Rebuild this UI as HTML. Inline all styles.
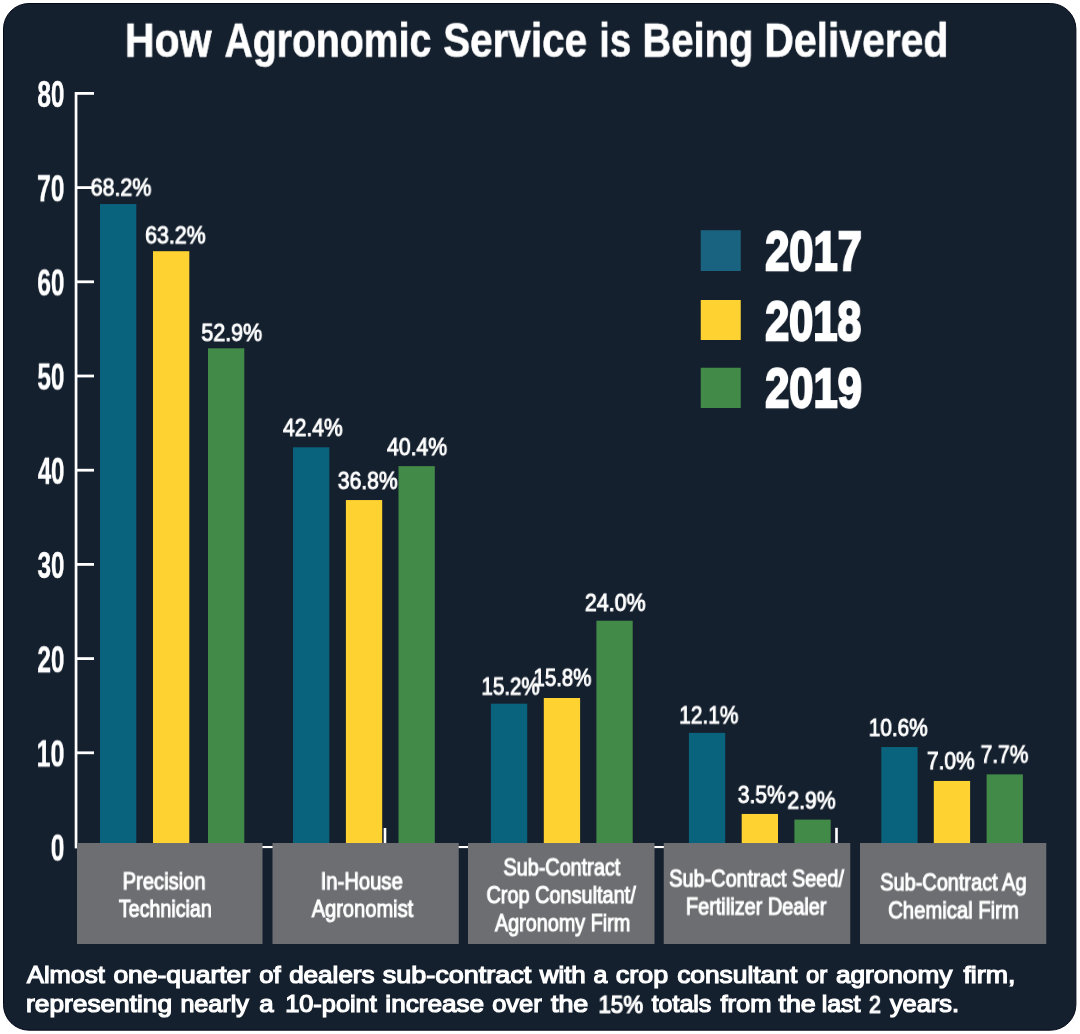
<!DOCTYPE html>
<html><head><meta charset="utf-8"><title>How Agronomic Service is Being Delivered</title>
<style>
html,body{margin:0;padding:0;background:#fff;}
body{width:1080px;height:1034px;position:relative;overflow:hidden;font-family:"Liberation Sans",sans-serif;}
.c{position:absolute;left:0;top:0;}
.t{will-change:transform;position:absolute;left:0;top:0;white-space:nowrap;line-height:1;transform-origin:0 0;color:#fff;font-family:"Liberation Sans",sans-serif;}
</style></head><body>

<svg class="c" width="1080" height="1034" viewBox="0 0 1080 1034">
<rect x="3.5" y="3.5" width="1072.4" height="1026.7" rx="25.5" ry="25.5" fill="#15202E" stroke="#060b1b" stroke-width="1"/>
<rect x="74.70" y="92.00" width="2.70" height="756.30" fill="#fff"/>
<rect x="75.00" y="92.00" width="19.00" height="2.80" fill="#fff"/>
<rect x="75.00" y="186.20" width="19.00" height="2.80" fill="#fff"/>
<rect x="75.00" y="280.40" width="19.00" height="2.80" fill="#fff"/>
<rect x="75.00" y="374.60" width="19.00" height="2.80" fill="#fff"/>
<rect x="75.00" y="468.80" width="19.00" height="2.80" fill="#fff"/>
<rect x="75.00" y="563.00" width="19.00" height="2.80" fill="#fff"/>
<rect x="75.00" y="657.20" width="19.00" height="2.80" fill="#fff"/>
<rect x="75.00" y="751.40" width="19.00" height="2.80" fill="#fff"/>
<rect x="75.00" y="846.00" width="762.80" height="2.10" fill="#fff"/>
<rect x="383.70" y="828.00" width="2.60" height="19.00" fill="#fff"/>
<rect x="835.20" y="827.80" width="2.60" height="19.20" fill="#fff"/>
<rect x="100.00" y="204.06" width="36.30" height="641.94" fill="#0A637D"/>
<rect x="153.00" y="251.20" width="36.30" height="594.80" fill="#FED331"/>
<rect x="208.00" y="348.29" width="36.30" height="497.71" fill="#428A47"/>
<rect x="293.00" y="447.27" width="36.30" height="398.73" fill="#0A637D"/>
<rect x="345.90" y="500.05" width="36.30" height="345.95" fill="#FED331"/>
<rect x="398.50" y="466.12" width="36.30" height="379.88" fill="#428A47"/>
<rect x="490.90" y="703.67" width="36.30" height="142.33" fill="#0A637D"/>
<rect x="543.80" y="698.01" width="36.30" height="147.99" fill="#FED331"/>
<rect x="596.40" y="620.71" width="36.30" height="225.29" fill="#428A47"/>
<rect x="688.90" y="732.89" width="36.30" height="113.11" fill="#0A637D"/>
<rect x="741.70" y="813.96" width="36.30" height="32.04" fill="#FED331"/>
<rect x="794.40" y="819.61" width="36.30" height="26.39" fill="#428A47"/>
<rect x="881.30" y="747.03" width="36.30" height="98.97" fill="#0A637D"/>
<rect x="933.80" y="780.96" width="36.30" height="65.04" fill="#FED331"/>
<rect x="986.60" y="774.37" width="36.30" height="71.63" fill="#428A47"/>
<rect x="77.00" y="843.00" width="185.50" height="101.00" fill="#6D6E72"/>
<rect x="272.50" y="843.00" width="186.25" height="101.00" fill="#6D6E72"/>
<rect x="468.00" y="843.00" width="186.50" height="101.00" fill="#6D6E72"/>
<rect x="663.75" y="843.00" width="186.50" height="101.00" fill="#6D6E72"/>
<rect x="860.00" y="843.00" width="186.25" height="101.00" fill="#6D6E72"/>
<rect x="700.75" y="230.25" width="40.00" height="40.75" fill="#1A6380"/>
<rect x="700.75" y="300.00" width="40.00" height="40.00" fill="#FED331"/>
<rect x="700.75" y="367.75" width="40.00" height="40.25" fill="#428A47"/>
</svg>
<div class="t" style="font-size:47.7px;font-weight:bold;-webkit-text-stroke:0.6px #fff;transform:translate(124.79px,16.70px) scale(0.8627,1.0000)">How</div>
<div class="t" style="font-size:47.7px;font-weight:bold;-webkit-text-stroke:0.6px #fff;transform:translate(224.46px,16.70px) scale(0.8215,1.0000)">Agronomic</div>
<div class="t" style="font-size:47.7px;font-weight:bold;-webkit-text-stroke:0.6px #fff;transform:translate(443.20px,16.70px) scale(0.8475,1.0000)">Service</div>
<div class="t" style="font-size:47.7px;font-weight:bold;-webkit-text-stroke:0.6px #fff;transform:translate(599.19px,16.70px) scale(0.8032,1.0000)">is</div>
<div class="t" style="font-size:47.7px;font-weight:bold;-webkit-text-stroke:0.6px #fff;transform:translate(642.35px,16.70px) scale(0.8383,1.0000)">Being</div>
<div class="t" style="font-size:47.7px;font-weight:bold;-webkit-text-stroke:0.6px #fff;transform:translate(764.30px,16.70px) scale(0.8576,1.0000)">Delivered</div>
<div class="t" style="font-size:37px;font-weight:bold;-webkit-text-stroke:0.5px #fff;transform:translate(37.33px,76.00px) scale(0.6580,1.0000)">80</div>
<div class="t" style="font-size:37px;font-weight:bold;-webkit-text-stroke:0.5px #fff;transform:translate(37.08px,170.20px) scale(0.6643,1.0000)">70</div>
<div class="t" style="font-size:37px;font-weight:bold;-webkit-text-stroke:0.5px #fff;transform:translate(37.33px,264.40px) scale(0.6580,1.0000)">60</div>
<div class="t" style="font-size:37px;font-weight:bold;-webkit-text-stroke:0.5px #fff;transform:translate(37.33px,358.60px) scale(0.6580,1.0000)">50</div>
<div class="t" style="font-size:37px;font-weight:bold;-webkit-text-stroke:0.5px #fff;transform:translate(37.82px,452.80px) scale(0.6458,1.0000)">40</div>
<div class="t" style="font-size:37px;font-weight:bold;-webkit-text-stroke:0.5px #fff;transform:translate(37.58px,547.00px) scale(0.6519,1.0000)">30</div>
<div class="t" style="font-size:37px;font-weight:bold;-webkit-text-stroke:0.5px #fff;transform:translate(37.33px,641.20px) scale(0.6580,1.0000)">20</div>
<div class="t" style="font-size:37px;font-weight:bold;-webkit-text-stroke:0.5px #fff;transform:translate(36.57px,735.40px) scale(0.6772,1.0000)">10</div>
<div class="t" style="font-size:37px;font-weight:bold;-webkit-text-stroke:0.5px #fff;transform:translate(50.83px,829.60px) scale(0.6602,1.0000)">0</div>
<div class="t" style="font-size:55.5px;font-weight:bold;-webkit-text-stroke:2.4px #fff;transform:translate(765.14px,224.05px) scale(0.7836,1.0000)">2017</div>
<div class="t" style="font-size:55.5px;font-weight:bold;-webkit-text-stroke:2.4px #fff;transform:translate(765.14px,294.05px) scale(0.7800,1.0000)">2018</div>
<div class="t" style="font-size:55.5px;font-weight:bold;-webkit-text-stroke:2.4px #fff;transform:translate(765.14px,361.05px) scale(0.7836,1.0000)">2019</div>
<div class="t" style="font-size:24.7px;-webkit-text-stroke:1px #fff;transform:translate(90.61px,175.60px) scale(0.8686,1.0000)">68.2%</div>
<div class="t" style="font-size:24.7px;-webkit-text-stroke:1px #fff;transform:translate(145.11px,223.35px) scale(0.8649,1.0000)">63.2%</div>
<div class="t" style="font-size:24.7px;-webkit-text-stroke:1px #fff;transform:translate(201.33px,320.85px) scale(0.8691,1.0000)">52.9%</div>
<div class="t" style="font-size:24.7px;-webkit-text-stroke:1px #fff;transform:translate(283.01px,415.85px) scale(0.8522,1.0000)">42.4%</div>
<div class="t" style="font-size:24.7px;-webkit-text-stroke:1px #fff;transform:translate(337.79px,468.85px) scale(0.8552,1.0000)">36.8%</div>
<div class="t" style="font-size:24.7px;-webkit-text-stroke:1px #fff;transform:translate(387.01px,435.10px) scale(0.8593,1.0000)">40.4%</div>
<div class="t" style="font-size:24.7px;-webkit-text-stroke:1px #fff;transform:translate(481.48px,674.60px) scale(0.8311,1.0000)">15.2%</div>
<div class="t" style="font-size:24.7px;-webkit-text-stroke:1px #fff;transform:translate(533.48px,665.85px) scale(0.8274,1.0000)">15.8%</div>
<div class="t" style="font-size:24.7px;-webkit-text-stroke:1px #fff;transform:translate(584.86px,590.85px) scale(0.8686,1.0000)">24.0%</div>
<div class="t" style="font-size:24.7px;-webkit-text-stroke:1px #fff;transform:translate(679.21px,703.35px) scale(0.8456,1.0000)">12.1%</div>
<div class="t" style="font-size:24.7px;-webkit-text-stroke:1px #fff;transform:translate(737.79px,782.85px) scale(0.8507,1.0000)">3.5%</div>
<div class="t" style="font-size:24.7px;-webkit-text-stroke:1px #fff;transform:translate(787.37px,788.60px) scale(0.8583,1.0000)">2.9%</div>
<div class="t" style="font-size:24.7px;-webkit-text-stroke:1px #fff;transform:translate(868.72px,715.85px) scale(0.8420,1.0000)">10.6%</div>
<div class="t" style="font-size:24.7px;-webkit-text-stroke:1px #fff;transform:translate(926.88px,749.10px) scale(0.8492,1.0000)">7.0%</div>
<div class="t" style="font-size:24.7px;-webkit-text-stroke:1px #fff;transform:translate(980.63px,742.60px) scale(0.8492,1.0000)">7.7%</div>
<div class="t" style="font-size:23.7px;-webkit-text-stroke:1.1px #fff;transform:translate(122.60px,870.35px) scale(0.8522,1.0000)">Precision</div>
<div class="t" style="font-size:23.7px;-webkit-text-stroke:1.1px #fff;transform:translate(118.81px,897.85px) scale(0.8312,1.0000)">Technician</div>
<div class="t" style="font-size:23.7px;-webkit-text-stroke:1.1px #fff;transform:translate(320.65px,870.35px) scale(0.8539,1.0000)">In-House</div>
<div class="t" style="font-size:23.7px;-webkit-text-stroke:1.1px #fff;transform:translate(311.72px,897.85px) scale(0.8470,1.0000)">Agronomist</div>
<div class="t" style="font-size:23.7px;-webkit-text-stroke:1.1px #fff;transform:translate(503.42px,856.35px) scale(0.8367,1.0000)">Sub-Contract</div>
<div class="t" style="font-size:23.7px;-webkit-text-stroke:1.1px #fff;transform:translate(486.47px,884.10px) scale(0.8394,1.0000)">Crop Consultant/</div>
<div class="t" style="font-size:23.7px;-webkit-text-stroke:1.1px #fff;transform:translate(494.96px,912.10px) scale(0.8355,1.0000)">Agronomy Firm</div>
<div class="t" style="font-size:23.7px;-webkit-text-stroke:1.1px #fff;transform:translate(669.17px,867.60px) scale(0.8399,1.0000)">Sub-Contract Seed/</div>
<div class="t" style="font-size:23.7px;-webkit-text-stroke:1.1px #fff;transform:translate(685.87px,895.60px) scale(0.8411,1.0000)">Fertilizer Dealer</div>
<div class="t" style="font-size:23.7px;-webkit-text-stroke:1.1px #fff;transform:translate(880.16px,871.35px) scale(0.8418,1.0000)">Sub-Contract Ag</div>
<div class="t" style="font-size:23.7px;-webkit-text-stroke:1.1px #fff;transform:translate(888.21px,899.35px) scale(0.8550,1.0000)">Chemical Firm</div>
<div class="t" style="font-size:23.1px;-webkit-text-stroke:1.2px #fff;transform:translate(26.91px,963.93px) scale(1.1030,1.0300)">Almost</div>
<div class="t" style="font-size:23.1px;-webkit-text-stroke:1.2px #fff;transform:translate(113.38px,963.93px) scale(1.1453,1.0300)">one-quarter</div>
<div class="t" style="font-size:23.1px;-webkit-text-stroke:1.2px #fff;transform:translate(259.14px,963.93px) scale(1.1102,1.0300)">of</div>
<div class="t" style="font-size:23.1px;-webkit-text-stroke:1.2px #fff;transform:translate(289.13px,963.93px) scale(1.1281,1.0300)">dealers</div>
<div class="t" style="font-size:23.1px;-webkit-text-stroke:1.2px #fff;transform:translate(382.66px,963.93px) scale(1.1689,1.0300)">sub-contract</div>
<div class="t" style="font-size:23.1px;-webkit-text-stroke:1.2px #fff;transform:translate(539.68px,963.93px) scale(1.1222,1.0300)">with</div>
<div class="t" style="font-size:23.1px;-webkit-text-stroke:1.2px #fff;transform:translate(593.40px,963.93px) scale(1.0786,1.0300)">a</div>
<div class="t" style="font-size:23.1px;-webkit-text-stroke:1.2px #fff;transform:translate(615.87px,963.93px) scale(1.1661,1.0300)">crop</div>
<div class="t" style="font-size:23.1px;-webkit-text-stroke:1.2px #fff;transform:translate(677.13px,963.93px) scale(1.1408,1.0300)">consultant</div>
<div class="t" style="font-size:23.1px;-webkit-text-stroke:1.2px #fff;transform:translate(805.91px,963.93px) scale(1.0358,1.0300)">or</div>
<div class="t" style="font-size:23.1px;-webkit-text-stroke:1.2px #fff;transform:translate(835.88px,963.93px) scale(1.1335,1.0300)">agronomy</div>
<div class="t" style="font-size:23.1px;-webkit-text-stroke:1.2px #fff;transform:translate(963.43px,963.93px) scale(1.1575,1.0300)">firm,</div>
<div class="t" style="font-size:23.1px;-webkit-text-stroke:1.2px #fff;transform:translate(26.11px,992.93px) scale(1.1364,1.0300)">representing</div>
<div class="t" style="font-size:23.1px;-webkit-text-stroke:1.2px #fff;transform:translate(180.39px,992.93px) scale(1.0880,1.0300)">nearly</div>
<div class="t" style="font-size:23.1px;-webkit-text-stroke:1.2px #fff;transform:translate(259.14px,992.93px) scale(1.1164,1.0300)">a</div>
<div class="t" style="font-size:23.1px;-webkit-text-stroke:1.2px #fff;transform:translate(285.13px,992.93px) scale(1.0979,1.0300)">10-point</div>
<div class="t" style="font-size:23.1px;-webkit-text-stroke:1.2px #fff;transform:translate(385.36px,992.93px) scale(1.1299,1.0300)">increase</div>
<div class="t" style="font-size:23.1px;-webkit-text-stroke:1.2px #fff;transform:translate(492.14px,992.93px) scale(1.1021,1.0300)">over</div>
<div class="t" style="font-size:23.1px;-webkit-text-stroke:1.2px #fff;transform:translate(550.93px,992.93px) scale(1.1629,1.0300)">the</div>
<div class="t" style="font-size:23.1px;-webkit-text-stroke:1.2px #fff;transform:translate(598.52px,992.93px) scale(0.9636,1.0300)">15%</div>
<div class="t" style="font-size:23.1px;-webkit-text-stroke:1.2px #fff;transform:translate(651.65px,992.93px) scale(1.0813,1.0300)">totals</div>
<div class="t" style="font-size:23.1px;-webkit-text-stroke:1.2px #fff;transform:translate(720.41px,992.93px) scale(1.1047,1.0300)">from</div>
<div class="t" style="font-size:23.1px;-webkit-text-stroke:1.2px #fff;transform:translate(778.43px,992.93px) scale(1.1629,1.0300)">the</div>
<div class="t" style="font-size:23.1px;-webkit-text-stroke:1.2px #fff;transform:translate(821.65px,992.93px) scale(1.0821,1.0300)">last</div>
<div class="t" style="font-size:23.1px;-webkit-text-stroke:1.2px #fff;transform:translate(868.98px,992.93px) scale(0.9302,1.0300)">2</div>
<div class="t" style="font-size:23.1px;-webkit-text-stroke:1.2px #fff;transform:translate(889.91px,992.93px) scale(1.0995,1.0300)">years.</div>
</body></html>
